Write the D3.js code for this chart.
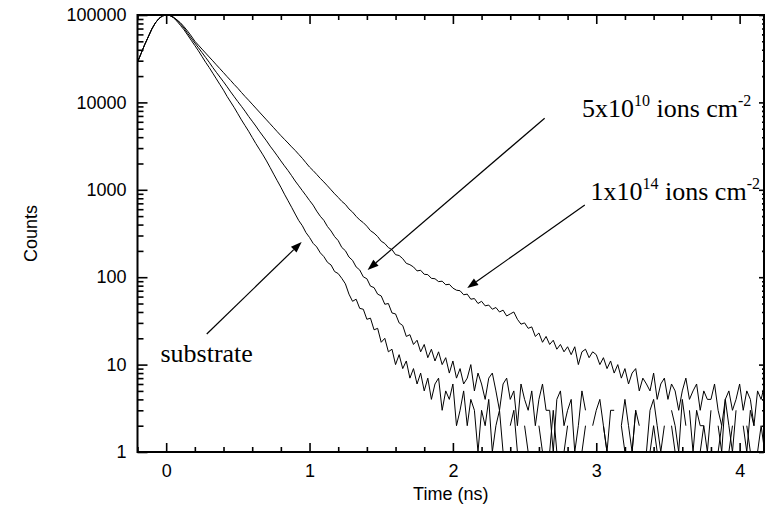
<!DOCTYPE html>
<html>
<head>
<meta charset="utf-8">
<script src="https://cdn.jsdelivr.net/npm/d3@7/dist/d3.min.js"></script>
<style>
    body { margin: 0; background: #fff; }
    svg { display: block; }
    .tick-label, .axis-title { font-family: "Liberation Sans", Arial, sans-serif; font-size: 18px; fill: #000; }
    .note { font-family: "Liberation Serif", "Times New Roman", serif; font-size: 26px; fill: #000; }
    .note .sup { font-size: 16px; }
</style>
</head>
<body>
<svg id="chart" width="765" height="515"></svg>
<script>
// time channels: start and step in ns, one count per channel
var timeStart = -0.2;
var timeStep = 0.025;

// 1x10^14 ions cm^-2
var countsHighDose = [
    28800, 36300, 45700, 56200, 69200, 81300, 91200, 97700, 100000, 98900,
    94400, 88100, 81300, 73300, 65300, 57500, 50100, 45200, 40700, 36700,
    33100, 29900, 26900, 24300, 21900, 19700, 17800, 16000, 14500, 13000,
    11700, 10600, 9550, 8610, 7760, 7000, 6310, 5690, 5130, 4620,
    4170, 3780, 3430, 3100, 2820, 2540, 2290, 2040, 1820, 1660,
    1500, 1350, 1230, 1110, 1000, 900,
    818, 738, 681, 604, 556, 497, 452, 421, 383, 341,
    319, 292, 258, 243, 218, 207, 181, 177, 163, 144,
    139, 131, 118, 120, 108, 107, 97, 96, 89, 90,
    82, 83, 75, 71, 70, 63, 64, 56, 57, 50,
    53, 47, 48, 43, 45, 40, 42, 36, 38, 40,
    33, 29, 30, 26, 27, 21, 23, 18, 21, 17,
    19, 15, 17, 14, 16, 13, 16, 10, 14, 15,
    12, 14, 13, 10, 12, 9, 11, 8, 10, 7,
    9, 6, 8, 9, 5, 7, 6, 5, 8, 4,
    6, 7, 4, 6, 5, 3, 5, 7, 4, 5,
    6, 3, 5, 4, 4, 6, 3, 2, 4, 5,
    3, 4, 6, 3, 5, 4, 2, 5, 4, 6
];

// 5x10^10 ions cm^-2
var countsLowDose = [
    28800, 36300, 45700, 56200, 69200, 81300, 91200, 97700, 100000, 98900,
    94400, 87100, 79400, 70800, 61700, 54300, 47900, 42200, 37200, 32700,
    28800, 25100, 22100, 19500, 17200, 15100, 13200, 11600, 10200, 9020,
    7940, 6920, 6100, 5370, 4680, 4120, 3630, 3160, 2790, 2450,
    2140, 1880, 1660, 1450, 1260, 1110, 977, 861,
    755, 668, 570, 498, 447, 380, 338, 291, 262, 219,
    201, 170, 156, 131, 121, 101, 96, 79, 76, 64,
    61, 49, 50, 39, 38, 30, 28, 21, 22, 17,
    19, 14, 17, 12, 15, 11, 14, 10, 12, 8,
    11, 7,
    9, 6, 7, 10, 5, 8, 6, 4, 7, 8,
    5, 3, 6, 7, 4, 5, 2, 6, 4, 3,
    5, 2, 4, 6, 3, 3, 1, 4, 5, 2,
    3, 4, 1, 2, 5, 3, 0, 2, 3, 4,
    2, 1, 3, 3, 0, 2, 4, 2, 1, 3,
    2, 0, 1, 3, 4, 2, 1, 2, 0, 3,
    2, 1, 4, 2, 0, 1, 3, 2, 2, 1,
    3, 0, 2, 1, 4, 2, 1, 3, 0, 2,
    1, 3, 2, 0, 2, 1
];

// substrate
var countsSubstrate = [
    28800, 36300, 45700, 56200, 69200, 81300, 91200, 97700, 100000, 98900,
    93300, 85100, 75900, 67600, 58900, 51300, 44700, 38900, 33500, 28800,
    25100, 21600, 18600, 16000, 13800, 11700, 10100, 8710, 7410, 6310,
    5430, 4680, 3980, 3390, 2920, 2510, 2140, 1800, 1510, 1270,
    1070, 891, 750, 631,
    528, 444, 388, 324, 285, 244, 222, 190, 172, 148,
    138, 116, 110, 97, 84, 64, 53, 56, 44, 43,
    33, 34, 25, 26, 18, 20, 14, 15, 10, 13,
    9, 11, 7,
    9, 6, 8, 5, 7, 4, 6, 7, 3, 5,
    4, 6, 2, 3, 5, 2, 4, 3, 1, 3,
    2, 4, 1, 2, 3, 1, 0, 2, 3, 1,
    0, 2, 1, 1, 0, 2, 1, 0, 1, 3,
    1, 0, 1, 2, 0, 1, 0, 1, 2, 0,
    1, 1, 0, 2, 1, 0, 1, 0, 2, 1,
    0, 1, 3, 0, 1, 0, 1, 2, 1, 0,
    1, 0, 2, 1, 0, 1, 0, 3, 1, 0,
    1, 2, 0, 1, 0, 1, 2, 0, 1, 2,
    0, 1, 0, 2, 1, 0, 1, 2, 0
];

var xTickValues = [0, 1, 2, 3, 4];
var yTickValues = [1, 10, 100, 1000, 10000, 100000];
var xTitle = "Time (ns)";
var yTitle = "Counts";

// annotations in data units: [time, counts]
var noteLabels = [
    { parts: ["5x10", "10", " ions cm", "-2"], at: [2.9, 6800] },
    { parts: ["1x10", "14", " ions cm", "-2"], at: [2.96, 760] },
    { parts: ["substrate"], at: [-0.04, 10.7] }
];
var noteArrows = [
    { from: [2.64, 6600], to: [1.405, 121] },
    { from: [2.92, 670], to: [2.1, 75] },
    { from: [0.283, 22.4], to: [0.945, 253] }
];

var width = 765, height = 515;
var margin = { top: 15, right: 1, bottom: 63, left: 137.5 };
var plotW = width - margin.left - margin.right;
var plotH = height - margin.top - margin.bottom;

var xScale = d3.scaleLinear().domain([-0.2, 4.17]).range([0, plotW]);
var yScale = d3.scaleLog().domain([1, 100000]).range([plotH, 0]);

var svg = d3.select("#chart");
var g = svg.append("g").attr("transform", "translate(" + margin.left + "," + margin.top + ")");

g.append("clipPath").attr("id", "plot-clip")
    .append("rect").attr("width", plotW).attr("height", plotH);

function toSeries(counts) {
    return counts.map(function (c, i) {
        return { t: timeStart + i * timeStep, c: c };
    });
}

// zero counts have no place on a log axis, so the trace breaks there
var line = d3.line()
    .defined(function (d) { return d.c > 0; })
    .x(function (d) { return xScale(d.t); })
    .y(function (d) { return yScale(d.c); });

var curves = g.append("g").attr("clip-path", "url(#plot-clip)");
[countsSubstrate, countsLowDose, countsHighDose].forEach(function (counts) {
    curves.append("path")
        .datum(toSeries(counts))
        .attr("fill", "none")
        .attr("stroke", "#000")
        .attr("stroke-width", 1)
        .attr("stroke-linejoin", "round")
        .attr("d", line);
});

var xMinor = d3.range(-0.2, 4.17, 0.2).filter(function (v) {
    return Math.abs(v - Math.round(v)) > 0.01;
});
var yMinor = [];
yTickValues.slice(0, -1).forEach(function (dec) {
    d3.range(2, 10).forEach(function (m) { yMinor.push(dec * m); });
});

function styleAxis(sel) {
    sel.select(".domain").remove();
    sel.selectAll(".tick line").attr("stroke", "#000").attr("stroke-width", 1.6);
}

g.append("g").attr("transform", "translate(0," + plotH + ")")
    .call(d3.axisBottom(xScale).tickValues(xMinor).tickSize(-5).tickFormat(""))
    .call(styleAxis);
g.append("g").attr("transform", "translate(0," + plotH + ")")
    .call(d3.axisBottom(xScale).tickValues(xTickValues).tickSize(-9).tickPadding(12).tickFormat(d3.format("d")))
    .call(styleAxis)
    .selectAll("text").attr("class", "tick-label").attr("fill", null);
g.append("g")
    .call(d3.axisTop(xScale).tickValues(xMinor).tickSize(-5).tickFormat(""))
    .call(styleAxis);
g.append("g")
    .call(d3.axisTop(xScale).tickValues(xTickValues).tickSize(-9).tickFormat(""))
    .call(styleAxis);

g.append("g")
    .call(d3.axisLeft(yScale).tickValues(yMinor).tickSize(-6).tickFormat(""))
    .call(styleAxis);
g.append("g")
    .call(d3.axisLeft(yScale).tickValues(yTickValues).tickSize(-10).tickPadding(11).tickFormat(d3.format("d")))
    .call(styleAxis)
    .selectAll("text").attr("class", "tick-label").attr("fill", null);
g.append("g").attr("transform", "translate(" + plotW + ",0)")
    .call(d3.axisRight(yScale).tickValues(yMinor).tickSize(-2).tickFormat(""))
    .call(styleAxis);
g.append("g").attr("transform", "translate(" + plotW + ",0)")
    .call(d3.axisRight(yScale).tickValues(yTickValues).tickSize(-5).tickFormat(""))
    .call(styleAxis);

g.append("rect")
    .attr("width", plotW).attr("height", plotH)
    .attr("fill", "none").attr("stroke", "#000").attr("stroke-width", 2);

g.append("text").attr("class", "axis-title")
    .attr("x", plotW / 2).attr("y", plotH + 48)
    .attr("text-anchor", "middle")
    .text(xTitle);
g.append("text").attr("class", "axis-title")
    .attr("transform", "translate(-101," + (plotH / 2) + ") rotate(-90)")
    .attr("text-anchor", "middle")
    .text(yTitle);

// annotation arrows
noteArrows.forEach(function (a) {
    var x1 = xScale(a.from[0]), y1 = yScale(a.from[1]);
    var x2 = xScale(a.to[0]), y2 = yScale(a.to[1]);
    var ang = Math.atan2(y2 - y1, x2 - x1);
    var len = 11, half = 4;
    var bx = x2 - len * Math.cos(ang), by = y2 - len * Math.sin(ang);
    g.append("line")
        .attr("x1", x1).attr("y1", y1).attr("x2", bx).attr("y2", by)
        .attr("stroke", "#000").attr("stroke-width", 1.2);
    g.append("path")
        .attr("d", "M" + x2 + "," + y2 +
            "L" + (bx + half * Math.sin(ang)) + "," + (by - half * Math.cos(ang)) +
            "L" + (bx - half * Math.sin(ang)) + "," + (by + half * Math.cos(ang)) + "Z")
        .attr("fill", "#000");
});

noteLabels.forEach(function (n) {
    var t = g.append("text").attr("class", "note")
        .attr("x", xScale(n.at[0])).attr("y", yScale(n.at[1]));
    n.parts.forEach(function (p, i) {
        var ts = t.append("tspan").text(p);
        if (i % 2 === 1) {
            ts.attr("class", "sup").attr("dy", -11);
        } else if (i > 0) {
            ts.attr("dy", 11);
        }
    });
});
</script>
</body>
</html>
